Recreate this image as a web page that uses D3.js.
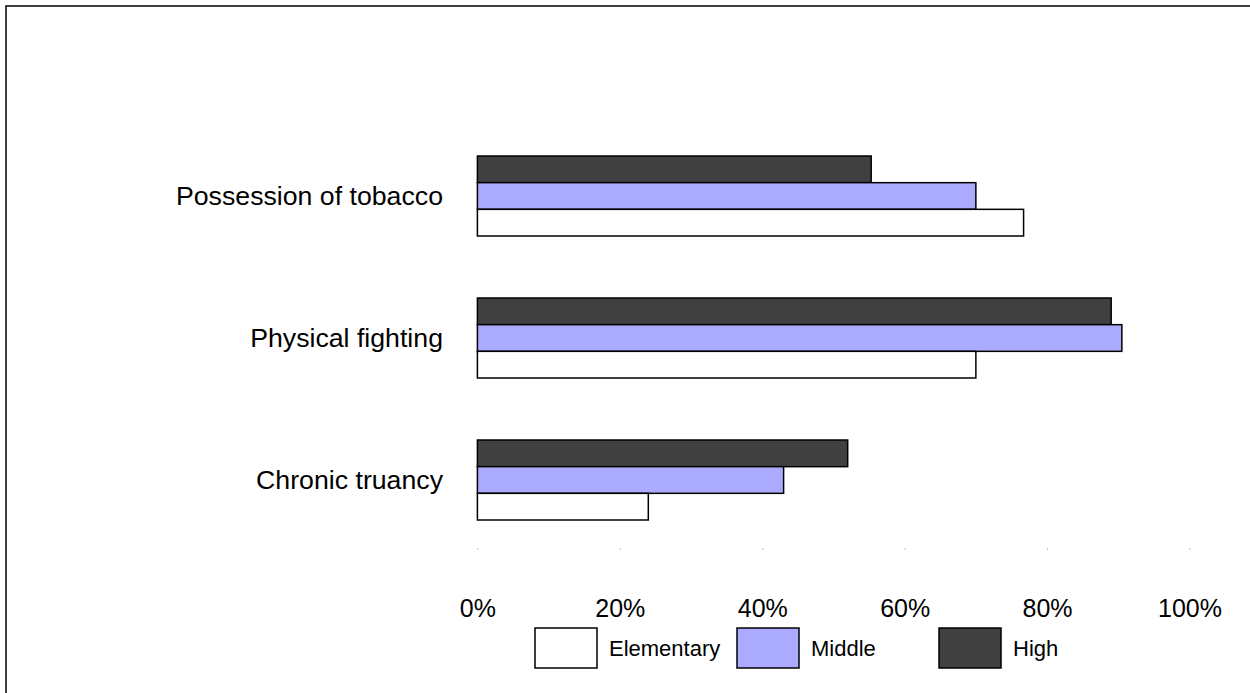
<!DOCTYPE html>
<html>
<head>
<meta charset="utf-8">
<script src="https://cdn.jsdelivr.net/npm/d3@7"></script>
<style>
  html, body { margin: 0; padding: 0; background: #fff; }
  svg { display: block; font-family: "Liberation Sans", Arial, sans-serif; }
</style>
</head>
<body>
<svg id="chart" width="1250" height="693"></svg>
<script>
// Behaviour categories, drawn top to bottom
const categories = ["Possession of tobacco", "Physical fighting", "Chronic truancy"];
// School levels (legend order) and their fills
const levels = ["Elementary", "Middle", "High"];
const levelColors = ["#ffffff", "#aaaaff", "#404040"];
// Share of schools reporting each behaviour, per level
const elementary = [0.767, 0.70, 0.24];
const middle = [0.70, 0.905, 0.43];
const high = [0.553, 0.89, 0.52];
// Axis tick values
const tickValues = [0, 0.2, 0.4, 0.6, 0.8, 1.0];

const series = { Elementary: elementary, Middle: middle, High: high };

const svg = d3.select("#chart");

// Outer frame
svg.append("path")
  .attr("d", "M6,693 V6 H1250")
  .attr("fill", "none")
  .attr("stroke", "#000")
  .attr("stroke-width", 1.5);

const x = d3.scaleLinear().domain([0, 1]).range([477.4, 1189.5]);

const pad = 0.4366;
const y = d3.scaleBand()
  .domain(categories)
  .range([125, 551])
  .paddingInner(pad)
  .paddingOuter(pad / 2);

// Within each group: High on top, Elementary at the bottom
const ySub = d3.scaleBand()
  .domain(["High", "Middle", "Elementary"])
  .range([0, y.bandwidth()]);

const groups = svg.append("g").selectAll("g")
  .data(categories)
  .join("g")
  .attr("transform", d => `translate(0,${y(d)})`);

groups.selectAll("rect")
  .data((c, i) => ["High", "Middle", "Elementary"].map(l => ({ level: l, value: series[l][i] })))
  .join("rect")
  .attr("x", x(0))
  .attr("y", d => ySub(d.level))
  .attr("width", d => x(d.value) - x(0))
  .attr("height", ySub.bandwidth())
  .attr("fill", d => levelColors[levels.indexOf(d.level)])
  .attr("stroke", "#000")
  .attr("stroke-width", 1.5);

// Category labels
svg.append("g").selectAll("text")
  .data(categories)
  .join("text")
  .attr("x", 443)
  .attr("y", d => y(d) + y.bandwidth() / 2)
  .attr("dy", "0.35em")
  .attr("text-anchor", "end")
  .attr("font-size", 26.7)
  .attr("fill", "#000")
  .text(d => d);

// Percentage axis with small tick marks and no domain line
const axis = d3.axisBottom(x)
  .tickValues(tickValues)
  .tickFormat(d3.format(".0%"))
  .tickSize(2)
  .tickPadding(49);

const gAxis = svg.append("g")
  .attr("transform", "translate(0,548)")
  .call(axis);
gAxis.select(".domain").remove();
gAxis.selectAll(".tick line").attr("stroke", "#bbb").attr("stroke-width", 1);
gAxis.selectAll(".tick text")
  .attr("font-family", "'Liberation Sans', Arial, sans-serif")
  .attr("font-size", 25)
  .attr("fill", "#000");

// Legend
const legend = svg.append("g").selectAll("g")
  .data(levels)
  .join("g")
  .attr("transform", (d, i) => `translate(${535 + i * 202},628)`);

legend.append("rect")
  .attr("width", 62)
  .attr("height", 40)
  .attr("fill", (d, i) => levelColors[i])
  .attr("stroke", "#000")
  .attr("stroke-width", 1.5);

legend.append("text")
  .attr("x", 74)
  .attr("y", 20)
  .attr("dy", "0.35em")
  .attr("font-size", 22)
  .attr("fill", "#000")
  .text(d => d);
</script>
</body>
</html>
